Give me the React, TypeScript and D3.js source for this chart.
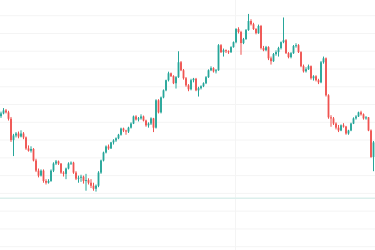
import React from "react";
import * as d3 from "d3";

const opens = [143.5,145.0,146.7,145.6,142.0,130.0,132.6,133.7,132.0,133.7,131.5,125.3,124.0,125.0,118.5,112.8,110.0,112.8,107.0,106.0,107.0,112.8,116.8,118.0,116.8,111.7,111.0,114.0,116.8,117.3,111.7,108.3,108.8,109.4,107.0,107.5,106.0,104.3,102.6,104.3,111.7,118.5,123.0,126.4,125.3,128.7,129.8,131.0,133.0,136.5,135.4,134.8,137.0,139.3,143.3,141.6,142.2,143.3,141.0,138.3,139.3,142.2,137.0,152.4,145.6,154.0,158.0,163.7,167.6,166.0,162.0,165.4,173.8,169.3,164.8,160.8,158.6,163.7,164.5,158.0,159.2,160.3,162.0,165.4,169.3,170.5,168.7,169.3,183.4,179.5,180.6,180.0,179.5,182.3,185.1,192.5,190.8,184.6,186.8,191.9,197.0,195.2,192.5,190.2,194.2,181.8,180.6,182.3,176.0,174.4,178.4,179.5,181.8,185.1,186.2,178.9,176.7,178.9,182.9,183.4,179.5,171.6,168.7,169.9,171.6,164.8,165.9,163.7,162.5,173.8,176.0,155.2,142.8,142.2,139.3,137.0,135.4,138.3,137.6,133.7,135.4,139.3,142.2,143.3,145.6,144.5,142.2,142.8,135.4,120.5];
const highs = [146.0,148.0,147.5,146.5,143.0,133.5,134.5,134.8,135.5,134.5,132.0,127.0,126.5,125.5,119.5,114.0,113.5,113.5,108.0,108.0,113.5,117.5,118.8,118.5,117.0,112.5,114.5,117.5,118.0,117.8,112.5,110.0,110.5,110.0,111.0,108.5,108.0,106.0,105.0,112.5,119.0,123.5,127.0,127.5,129.0,130.5,131.5,133.5,137.0,137.0,135.8,137.5,140.0,143.8,144.0,143.0,144.5,143.8,141.5,140.0,142.8,142.5,153.0,153.0,154.5,158.5,164.0,168.5,168.0,166.5,166.0,180.0,174.5,170.0,165.5,161.5,164.5,165.0,165.0,160.0,160.8,162.5,166.0,169.8,171.5,171.0,170.0,184.0,184.0,181.5,181.0,180.5,182.8,185.5,193.0,193.5,191.5,187.5,192.5,201.0,198.0,196.0,193.0,195.0,194.8,183.0,183.0,182.8,177.0,179.0,180.5,182.5,185.5,199.0,186.8,179.5,179.5,183.5,184.5,184.0,180.0,172.5,171.0,172.5,172.0,166.5,166.5,164.5,174.5,177.0,176.5,155.8,144.0,143.0,140.0,138.5,138.8,139.5,138.0,135.8,139.8,142.8,144.0,146.0,146.5,145.0,143.5,143.0,136.0,129.5];
const lows = [142.5,144.5,145.0,141.0,129.0,121.0,131.5,131.0,131.5,130.5,124.5,123.5,123.0,118.0,112.0,109.0,109.5,106.0,105.0,105.5,106.5,112.0,116.0,116.0,111.0,109.5,108.0,113.5,116.0,111.0,107.5,106.0,106.5,105.5,101.5,105.0,103.0,101.5,101.0,103.5,111.0,118.0,122.5,124.5,125.0,127.5,129.0,130.5,132.5,134.5,133.0,134.0,136.5,139.0,141.0,140.5,141.5,140.5,137.5,137.0,138.5,134.5,136.5,145.0,145.0,153.5,157.5,163.0,165.5,161.5,159.0,165.0,168.8,164.0,160.0,157.5,158.0,162.5,157.5,154.5,158.5,159.8,161.5,165.0,168.8,168.0,167.5,169.0,179.0,177.0,179.0,178.5,179.0,182.0,184.5,190.0,178.0,184.0,186.5,191.5,194.5,192.0,189.5,189.8,181.0,180.0,180.0,175.0,172.5,174.0,177.5,177.0,181.0,184.5,178.5,176.0,176.0,178.5,182.0,179.0,171.0,168.0,168.0,169.5,164.0,163.5,163.0,161.5,162.0,173.0,154.5,142.0,137.5,138.5,136.0,134.5,135.0,137.0,133.0,133.0,135.0,139.0,141.5,143.0,143.8,141.5,141.5,135.0,120.0,112.5];
const closes = [145.0,146.7,145.6,142.0,130.0,132.6,133.7,132.0,133.7,131.5,125.3,124.0,125.0,118.5,112.8,110.0,112.8,107.0,106.0,107.0,112.8,116.8,118.0,116.8,111.7,111.0,114.0,116.8,117.3,111.7,108.3,108.8,109.4,107.0,107.5,106.0,104.3,102.6,104.3,111.7,118.5,123.0,126.4,125.3,128.7,129.8,131.0,133.0,136.5,135.4,134.8,137.0,139.3,143.3,141.6,142.2,143.3,141.0,138.3,139.3,142.2,137.0,152.4,145.6,154.0,158.0,163.7,167.6,166.0,162.0,165.4,173.8,169.3,164.8,160.8,158.6,163.7,164.5,158.0,159.2,160.3,162.0,165.4,169.3,170.5,168.7,169.3,183.4,179.5,180.6,180.0,179.5,182.3,185.1,192.5,190.8,184.6,186.8,191.9,197.0,195.2,192.5,190.2,194.2,181.8,180.6,182.3,176.0,174.4,178.4,179.5,181.8,185.1,186.2,178.9,176.7,178.9,182.9,183.4,179.5,171.6,168.7,169.9,171.6,164.8,165.9,163.7,162.5,173.8,176.0,155.2,142.8,142.2,139.3,137.0,135.4,138.3,137.6,133.7,135.4,139.3,142.2,143.3,145.6,144.5,142.2,142.8,135.4,120.5,128.7];

const priceTicks = [70, 80, 90, 100, 110, 120, 130, 140, 150, 160, 170, 180, 190, 200];
const timeTicks = [94];
const baselinePrice = 97.2;

const W = 375;
const H = 250;
const UP = "#26a69a";
const DOWN = "#ef5350";

export default function App() {
  const n = closes.length;
  const x = d3.scaleLinear().domain([0, n - 1]).range([1, 373.5]);
  const y = d3.scaleLinear().domain([70, 200]).range([246.7, 15.7]);
  const bodyW = 1.8;
  return (
    <svg width={W} height={H} style={{ position: "fixed", left: 0, top: 0, background: "#fff" }}>
      <rect x={0} y={0} width={W} height={H} fill="#ffffff" />
      {priceTicks.map((p) => (
        <line key={"g" + p} x1={0} x2={W} y1={y(p)} y2={y(p)} stroke="#f4f4f4" strokeWidth={1} />
      ))}
      {timeTicks.map((t) => (
        <line key={"v" + t} x1={Math.round(x(t)) - 0.5} x2={Math.round(x(t)) - 0.5} y1={0} y2={H} stroke="#f4f4f4" strokeWidth={1} />
      ))}
      <line x1={0} x2={W} y1={y(baselinePrice)} y2={y(baselinePrice)} stroke="#dcefec" strokeWidth={1.5} />
      {closes.map((c, i) => {
        const o = opens[i];
        const col = c >= o ? UP : DOWN;
        const cx = x(i);
        const top = y(Math.max(o, c));
        const bot = y(Math.min(o, c));
        return (
          <g key={i}>
            <line x1={cx} x2={cx} y1={y(highs[i])} y2={y(lows[i])} stroke={col} strokeWidth={1} />
            <rect x={cx - bodyW / 2} y={top} width={bodyW} height={Math.max(1, bot - top)} fill={col} />
          </g>
        );
      })}
    </svg>
  );
}
